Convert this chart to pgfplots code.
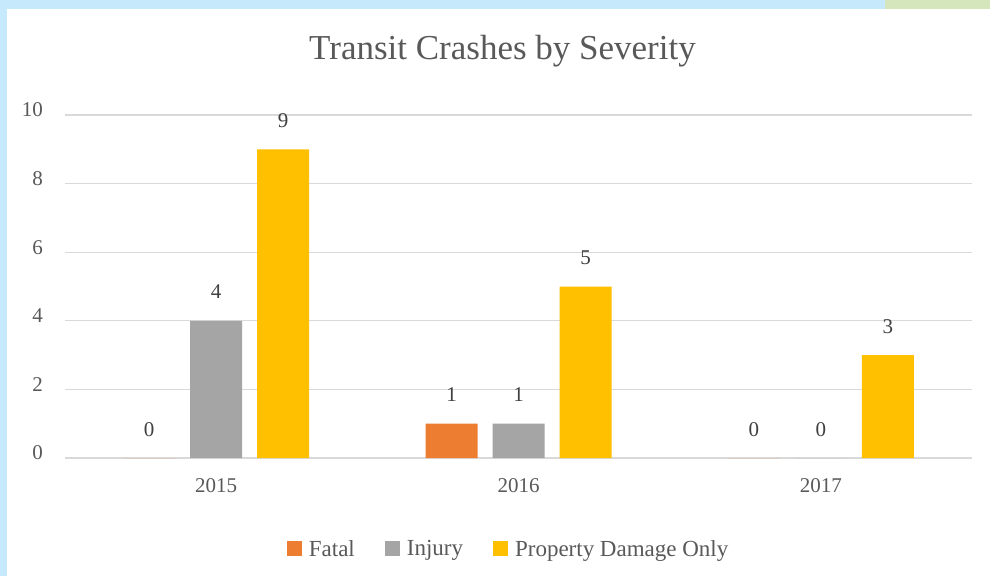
\documentclass[border=0pt]{standalone}
\usepackage{fontspec}
\setmainfont{Liberation Serif}
\usepackage{pgfplots}
\pgfplotsset{compat=1.18}
\definecolor{frameblue}{RGB}{198,233,251}
\definecolor{framegreen}{RGB}{214,230,188}
\definecolor{fatal}{RGB}{237,125,49}
\definecolor{injury}{RGB}{165,165,165}
\definecolor{pdo}{RGB}{255,192,0}
\definecolor{gridc}{RGB}{217,217,217}
\definecolor{txt}{RGB}{89,89,89}
\definecolor{lbl}{RGB}{64,64,64}
\begin{document}
\begin{tikzpicture}[x=1pt,y=1pt]
\useasboundingbox (0,0) rectangle (990,576);
\fill[frameblue] (0,0) rectangle (990,576);
\fill[framegreen] (885,567) rectangle (990,576);
\fill[white] (7,0) rectangle (990,567);
\node[anchor=base, text=txt, font=\fontsize{35}{40}\selectfont, inner sep=0pt] at (502.5,516) {Transit Crashes by Severity};
\begin{axis}[
 at={(65pt,118pt)}, anchor=south west,
 scale only axis, width=907pt, height=343pt,
 xmin=-0.5, xmax=2.5, ymin=0, ymax=10,
 ybar=15pt, bar width=52pt,
 xtick={0,1,2}, xticklabels={2015,2016,2017},
 ytick={0,2,...,10},
 ymajorgrids, grid style={gridc, line width=1.2pt},
 axis line style={draw=none},
 major tick length=0pt,
 tick label style={text=txt, font=\fontsize{21}{24}\selectfont, inner sep=0pt},
 yticklabel style={anchor=east, xshift=-22pt, yshift=5pt},
 xticklabel style={anchor=north, yshift=-20pt},
 /pgf/number format/assume math mode=true,
 nodes near coords,
 every node near coord/.append style={text=lbl, font=\fontsize{21}{24}\selectfont, anchor=base, yshift=22pt, inner sep=0pt},
 legend columns=3,
 legend style={at={(0.488,-0.265)}, anchor=center, draw=none, fill=none, font=\fontsize{23}{27}\selectfont, nodes={inner sep=0pt, text=txt}, /tikz/every odd column/.append style={column sep=7pt}, /tikz/every even column/.append style={column sep=30pt}},
 legend image code/.code={\fill[#1] (0pt,-7.5pt) rectangle (15pt,7.5pt);},
]
\addplot[fill=fatal, draw=none] coordinates {(0,0) (1,1) (2,0)};
\addplot[fill=injury, draw=none] coordinates {(0,4) (1,1) (2,0)};
\addplot[fill=pdo, draw=none] coordinates {(0,9) (1,5) (2,3)};
\legend{Fatal, Injury, Property Damage Only}
\end{axis}
\end{tikzpicture}
\end{document}
